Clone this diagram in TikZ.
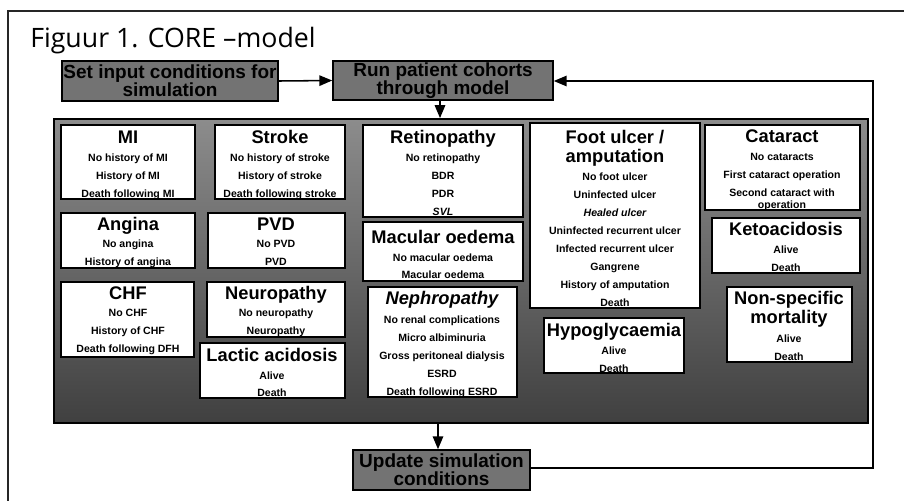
\documentclass[tikz,border=0pt]{standalone}
\usepackage{fontspec}
\setmainfont{Liberation Sans}
\newfontfamily\headfont{Open Sans}
\usepackage{tikz}
\usetikzlibrary{arrows, fit}

\tikzset{
  panel/.style={draw=black, line width=1.4pt, inner sep=0pt, top color=black!45, bottom color=black!75},
  darkbox/.style={draw=black, line width=1.2pt, fill=black!55, inner sep=0pt},
  boxtext/.style={align=center, inner sep=0pt, font=\fontsize{13.5}{13}\selectfont\bfseries},
  statebox/.style={draw=black, line width=1.2pt, fill=white, inner sep=0pt},
  ttl/.style={font=\fontsize{13}{15}\selectfont\bfseries, inner sep=0pt, anchor=mid, yshift=-2pt},
  itm/.style={font=\fontsize{7.5}{9}\selectfont\bfseries, inner sep=0pt, anchor=mid},
  conn/.style={line width=1.1pt, >=triangle 45}
}

\begin{document}
\begin{tikzpicture}[x=0.025cm, y=-0.025cm]
\useasboundingbox (0,0) rectangle (904,501);

\draw[line width=0.9pt, black!85] (8,501) -- (8,11) -- (904,11);
\node[anchor=base west, inner sep=0pt, font=\headfont\fontsize{19}{22}\selectfont] (title) at (30,47) {Figuur 1. CORE –model};

\node[darkbox, fit={(62,61) (278,101)}] (setin) {};
\node[darkbox, fit={(333,61) (553,100)}] (run) {};
\node[darkbox, fit={(353,450) (530,490)}] (upd) {};
\node[boxtext] (setin-t) at (setin.center) {Set input conditions for\\simulation};
\node[boxtext] (run-t) at (run.center) {Run patient cohorts\\through model};
\node[boxtext] (upd-t) at (upd.center) {Update simulation\\conditions};

\node[panel, fit={(54,119) (868,423)}] (core) {};

\node[statebox, fit={(61,125) (195,199)}] (mi) {};
\node[statebox, fit={(215,125) (345,199)}] (stroke) {};
\node[statebox, fit={(61,213) (195,268)}] (angina) {};
\node[statebox, fit={(208,213) (345,268)}] (pvd) {};
\node[statebox, fit={(61,282) (194,357)}] (chf) {};
\node[statebox, fit={(207,282) (345,337)}] (neuro) {};
\node[statebox, fit={(200,343) (345,398)}] (lactic) {};
\node[statebox, fit={(363,125) (523,217)}] (retino) {};
\node[statebox, fit={(363,222) (523,281)}] (macula) {};
\node[statebox, fit={(368,287) (517,397)}] (nephro) {};
\node[statebox, fit={(530,123) (700,308)}] (foot) {};
\node[statebox, fit={(544,318) (684,373)}] (hypo) {};
\node[statebox, fit={(705,125) (860,210)}] (cataract) {};
\node[statebox, fit={(712,218) (860,273)}] (keto) {};
\node[statebox, fit={(727,287) (852,362)}] (nonspec) {};

\node[ttl] (mi-t) at (128,137) {MI};
\node[itm] (mi-1) at (128,158) {No history of MI};
\node[itm] (mi-2) at (128,176) {History of MI};
\node[itm] (mi-3) at (128,194) {Death following MI};

\node[ttl] (stroke-t) at (280,137) {Stroke};
\node[itm] (stroke-1) at (280,158) {No history of stroke};
\node[itm] (stroke-2) at (280,176) {History of stroke};
\node[itm] (stroke-3) at (280,194) {Death following stroke};

\node[ttl] (angina-t) at (128,224) {Angina};
\node[itm] (angina-1) at (128,244) {No angina};
\node[itm] (angina-2) at (128,262) {History of angina};

\node[ttl] (pvd-t) at (276,224) {PVD};
\node[itm] (pvd-1) at (276,244) {No PVD};
\node[itm] (pvd-2) at (276,262) {PVD};

\node[ttl] (chf-t) at (128,293) {CHF};
\node[itm] (chf-1) at (128,313) {No CHF};
\node[itm] (chf-2) at (128,331) {History of CHF};
\node[itm] (chf-3) at (128,349) {Death following DFH};

\node[ttl] (neuro-t) at (276,293) {Neuropathy};
\node[itm] (neuro-1) at (276,313) {No neuropathy};
\node[itm] (neuro-2) at (276,331) {Neuropathy};

\node[ttl] (lactic-t) at (272,355) {Lactic acidosis};
\node[itm] (lactic-1) at (272,376) {Alive};
\node[itm] (lactic-2) at (272,393) {Death};

\node[ttl] (retino-t) at (443,137) {Retinopathy};
\node[itm] (retino-1) at (443,158) {No retinopathy};
\node[itm] (retino-2) at (443,176) {BDR};
\node[itm] (retino-3) at (443,194) {PDR};
\node[itm] (retino-4) at (443,212) {\itshape SVL};

\node[ttl] (macula-t) at (443,237) {Macular oedema};
\node[itm] (macula-1) at (443,258) {No macular oedema};
\node[itm] (macula-2) at (443,275) {Macular oedema};

\node[ttl] (nephro-t) at (442,298) {\itshape Nephropathy};
\node[itm] (nephro-1) at (442,320) {No renal complications};
\node[itm] (nephro-2) at (442,338) {Micro albiminuria};
\node[itm] (nephro-3) at (442,356) {Gross peritoneal dialysis};
\node[itm] (nephro-4) at (442,374) {ESRD};
\node[itm] (nephro-5) at (442,392) {Death following ESRD};

\node[ttl] (foot-t) at (615,137) {Foot ulcer /};
\node[ttl] (foot-u) at (615,156) {amputation};
\node[itm] (foot-1) at (615,177) {No foot ulcer};
\node[itm] (foot-2) at (615,195) {Uninfected ulcer};
\node[itm] (foot-3) at (615,213) {\itshape Healed ulcer};
\node[itm] (foot-4) at (615,231) {Uninfected recurrent ulcer};
\node[itm] (foot-5) at (615,249) {Infected recurrent ulcer};
\node[itm] (foot-6) at (615,267) {Gangrene};
\node[itm] (foot-7) at (615,285) {History of amputation};
\node[itm] (foot-8) at (615,303) {Death};

\node[ttl] (hypo-t) at (614,330) {Hypoglycaemia};
\node[itm] (hypo-1) at (614,351) {Alive};
\node[itm] (hypo-2) at (614,369) {Death};

\node[ttl] (cataract-t) at (782,136) {Cataract};
\node[itm] (cataract-1) at (782,157) {No cataracts};
\node[itm] (cataract-2) at (782,175) {First cataract operation};
\node[itm] (cataract-3) at (782,193) {Second cataract with};
\node[itm] (cataract-4) at (782,205) {operation};

\node[ttl] (keto-t) at (786,229) {Ketoacidosis};
\node[itm] (keto-1) at (786,250) {Alive};
\node[itm] (keto-2) at (786,268) {Death};

\node[ttl] (nonspec-t) at (789,298) {Non-specific};
\node[ttl] (nonspec-u) at (789,317) {mortality};
\node[itm] (nonspec-1) at (789,339) {Alive};
\node[itm] (nonspec-2) at (789,357) {Death};

\coordinate (rdown) at (440,0);
\coordinate (udown) at (438,0);
\coordinate (fbb) at (873,468);
\coordinate (fbt) at (873,81);

\draw[conn, ->] (setin.east) -- (run.west);
\draw[conn, ->] (run.south -| rdown) -- (core.north -| rdown);
\draw[conn, ->] (core.south -| udown) -- (upd.north -| udown);
\draw[conn, ->] (upd.east |- fbb) -- (fbb) -- (fbt) -- (run.east |- fbt);

\end{tikzpicture}
\end{document}
